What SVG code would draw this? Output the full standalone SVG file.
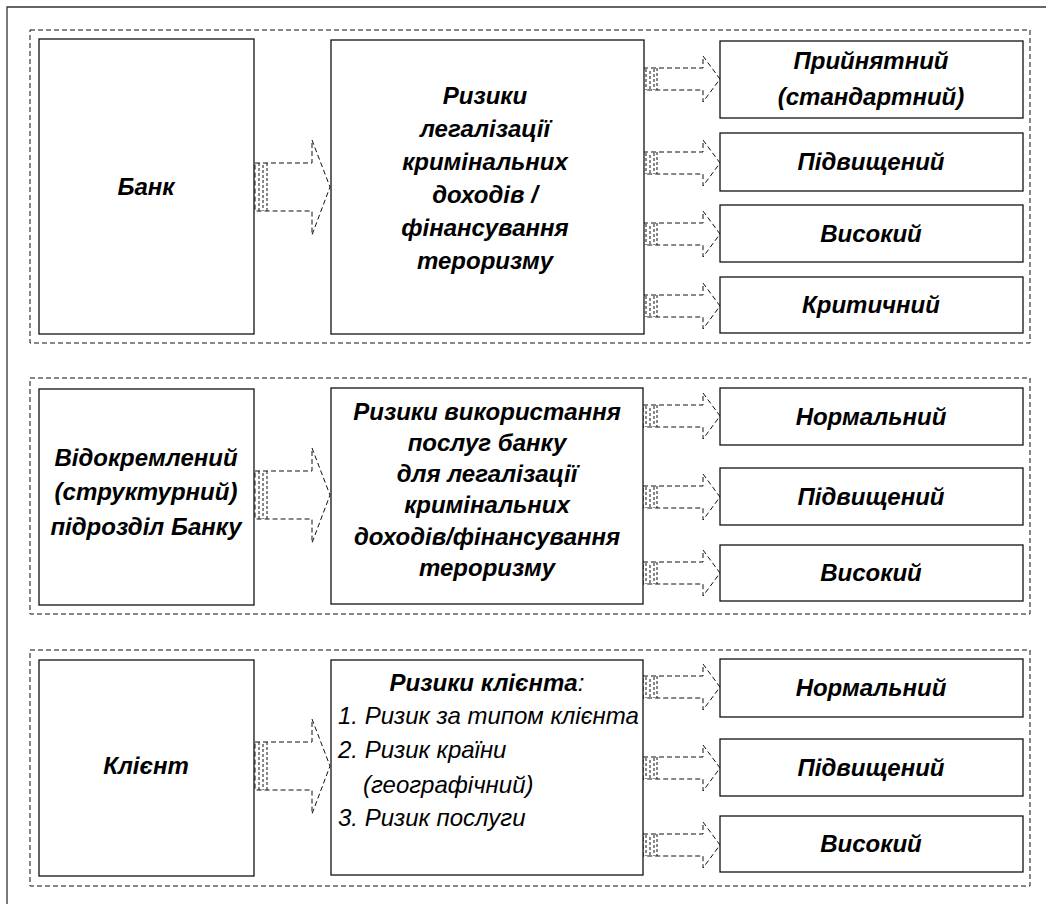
<svg xmlns="http://www.w3.org/2000/svg" xmlns:xlink="http://www.w3.org/1999/xlink" width="1046" height="904" viewBox="0 0 1046 904">
<style>
.frame{fill:none;stroke:#333;stroke-width:1.3}
.grp{fill:none;stroke:#111;stroke-width:1;stroke-dasharray:5 3}
.box{fill:#fff;stroke:#111;stroke-width:1.3}
.arr{fill:none;stroke:#111;stroke-width:1;stroke-dasharray:5 3}
.str{fill:none;stroke:#111;stroke-width:1;stroke-dasharray:3 2}
.t{font-family:"Liberation Sans",Arial,sans-serif;font-style:italic;font-weight:bold;font-size:24px;fill:#000;text-anchor:middle}
.r{font-family:"Liberation Sans",Arial,sans-serif;font-style:italic;font-weight:normal;font-size:24px;fill:#000}
</style>
<defs>
<g id="bigArrow">
<path class="arr" d="M0,-24 H57 V-47 L75,0 L57,48 V24 H0 Z"/>
<path class="str" d="M4,-24 V24 M8,-22 V24 M12,-24 V24"/>
</g>
<g id="smallArrow">
<path class="arr" d="M0,-11 H60 V-23 L77,0 L60,23 V11 H0 Z"/>
<path class="str" d="M3,-10 V11 M7,-8 V10 M11,-10 V11 M14,-11 V11"/>
</g>
</defs>
<rect width="1046" height="904" fill="#fff"/>
<path class="frame" d="M7,904 V7 H1046"/>
<g id="groups">
<rect class="grp" x="30" y="30" width="1000" height="313"/>
<rect class="grp" x="30" y="378" width="1000" height="236"/>
<rect class="grp" x="30" y="650" width="1000" height="236"/>
</g>
<g id="connectors">
<use xlink:href="#bigArrow" x="255" y="187"/>
<use xlink:href="#bigArrow" x="255" y="495"/>
<use xlink:href="#bigArrow" x="255" y="766"/>
<use xlink:href="#smallArrow" x="643" y="79"/>
<use xlink:href="#smallArrow" x="643" y="163"/>
<use xlink:href="#smallArrow" x="643" y="234"/>
<use xlink:href="#smallArrow" x="643" y="306"/>
<use xlink:href="#smallArrow" x="643" y="416"/>
<use xlink:href="#smallArrow" x="643" y="497"/>
<use xlink:href="#smallArrow" x="643" y="573"/>
<use xlink:href="#smallArrow" x="643" y="687"/>
<use xlink:href="#smallArrow" x="643" y="768"/>
<use xlink:href="#smallArrow" x="643" y="845"/>
</g>
<g id="bank">
<rect class="box" x="39" y="39" width="215" height="295"/>
<text class="t" x="146" y="195">Банк</text>
</g>
<g id="risk-bank">
<rect class="box" x="331" y="40" width="313" height="294"/>
<text class="t" x="485" y="104">Ризики</text>
<text class="t" x="485" y="137">легалізації</text>
<text class="t" x="485" y="170">кримінальних</text>
<text class="t" x="485" y="203">доходів /</text>
<text class="t" x="485" y="236">фінансування</text>
<text class="t" x="485" y="269">тероризму</text>
</g>
<g id="g1-acceptable">
<rect class="box" x="720" y="41" width="303" height="77"/>
<text class="t" x="871" y="69">Прийнятний</text>
<text class="t" x="871" y="105">(стандартний)</text>
</g>
<g id="g1-elevated">
<rect class="box" x="720" y="133" width="303" height="58"/>
<text class="t" x="871" y="170">Підвищений</text>
</g>
<g id="g1-high">
<rect class="box" x="720" y="205" width="303" height="57"/>
<text class="t" x="871" y="242">Високий</text>
</g>
<g id="g1-critical">
<rect class="box" x="720" y="277" width="303" height="56"/>
<text class="t" x="871" y="313">Критичний</text>
</g>
<g id="division">
<rect class="box" x="39" y="389" width="215" height="216"/>
<text class="t" x="146" y="466">Відокремлений</text>
<text class="t" x="146" y="500">(структурний)</text>
<text class="t" x="146" y="535">підрозділ Банку</text>
</g>
<g id="risk-division">
<rect class="box" x="331" y="388" width="312" height="216"/>
<text class="t" x="487" y="420">Ризики використання</text>
<text class="t" x="487" y="451">послуг банку</text>
<text class="t" x="487" y="482">для легалізації</text>
<text class="t" x="487" y="513">кримінальних</text>
<text class="t" x="487" y="545">доходів/фінансування</text>
<text class="t" x="487" y="576">тероризму</text>
</g>
<g id="g2-normal">
<rect class="box" x="720" y="388" width="303" height="57"/>
<text class="t" x="871" y="425">Нормальний</text>
</g>
<g id="g2-elevated">
<rect class="box" x="720" y="468" width="303" height="57"/>
<text class="t" x="871" y="505">Підвищений</text>
</g>
<g id="g2-high">
<rect class="box" x="720" y="545" width="303" height="56"/>
<text class="t" x="871" y="581">Високий</text>
</g>
<g id="client">
<rect class="box" x="39" y="660" width="215" height="216"/>
<text class="t" x="146" y="774">Клієнт</text>
</g>
<g id="risk-client">
<rect class="box" x="331" y="660" width="312" height="215"/>
<text class="t" x="487" y="691">Ризики клієнта<tspan font-weight="normal">:</tspan></text>
<text class="r" x="338" y="724">1. Ризик за типом клієнта</text>
<text class="r" x="338" y="758">2. Ризик країни</text>
<text class="r" x="363" y="793">(географічний)</text>
<text class="r" x="338" y="826">3. Ризик послуги</text>
</g>
<g id="g3-normal">
<rect class="box" x="720" y="659" width="303" height="58"/>
<text class="t" x="871" y="696">Нормальний</text>
</g>
<g id="g3-elevated">
<rect class="box" x="720" y="739" width="303" height="57"/>
<text class="t" x="871" y="776">Підвищений</text>
</g>
<g id="g3-high">
<rect class="box" x="720" y="816" width="303" height="56"/>
<text class="t" x="871" y="852">Високий</text>
</g>
</svg>
